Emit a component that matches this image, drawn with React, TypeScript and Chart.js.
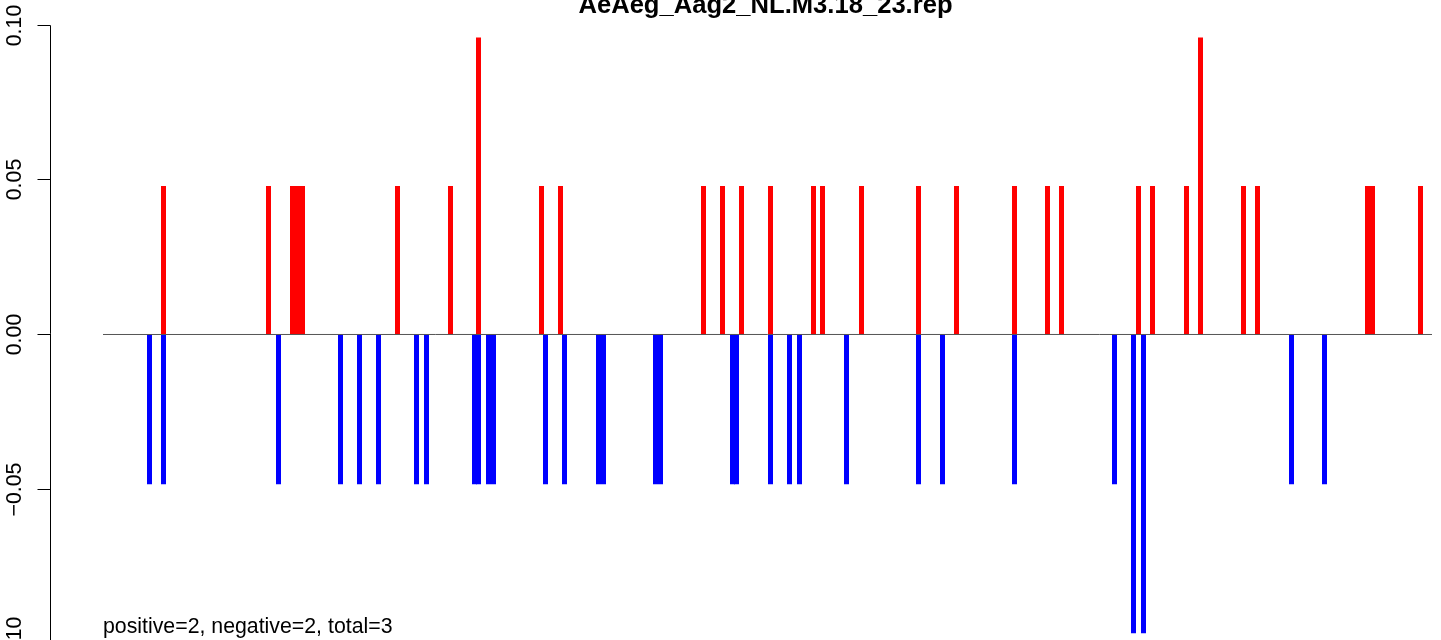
import React, { useEffect, useRef } from "react";
import { Chart, registerables } from "chart.js";

Chart.register(...registerables);

const chartTitle = "AeAeg_Aag2_NL.M3.18_23.rep";
const footnote = "positive=2, negative=2, total=3";

// positions along the sequence (plot units) and values
const posPositions = [
  60.5, 165.5, 189.5, 194.5, 199.5, 294.5, 347.5, 375.5, 438.5, 457.5,
  600.5, 619.5, 638.5, 667.5, 710.5, 719.5, 758.5, 815.5, 853.5, 911.5,
  944.5, 958.5, 1035.5, 1049.5, 1083.5, 1097.5, 1140.5, 1154.5, 1264.5, 1269.5,
  1317.5,
];
const posValues = [
  0.048, 0.048, 0.048, 0.048, 0.048, 0.048, 0.048, 0.096, 0.048, 0.048,
  0.048, 0.048, 0.048, 0.048, 0.048, 0.048, 0.048, 0.048, 0.048, 0.048,
  0.048, 0.048, 0.048, 0.048, 0.048, 0.096, 0.048, 0.048, 0.048, 0.048,
  0.048,
];
const negPositions = [
  46.5, 60.5, 175.5, 237.5, 256.5, 275.5, 313.5, 323.5, 371.5, 375.5,
  385.5, 390.5, 442.5, 461.5, 495.5, 500.5, 552.5, 557.5, 629.5, 633.5,
  667.5, 686.5, 696.5, 743.5, 815.5, 839.5, 911.5, 1011.5, 1030.5, 1040.5,
  1188.5, 1221.5,
];
const negValues = [
  -0.0484, -0.0484, -0.0484, -0.0484, -0.0484, -0.0484, -0.0484, -0.0484, -0.0484, -0.0484,
  -0.0484, -0.0484, -0.0484, -0.0484, -0.0484, -0.0484, -0.0484, -0.0484, -0.0484, -0.0484,
  -0.0484, -0.0484, -0.0484, -0.0484, -0.0484, -0.0484, -0.0484, -0.0484, -0.0965, -0.0965,
  -0.0484, -0.0484,
];
const yTickValues = [0.1, 0.05, 0, -0.05, -0.1];
const yTickLabels = ["0.10", "0.05", "0.00", "\u22120.05", "\u22120.10"];

const xMin = 0;
const xMax = 1329;
const yMin = -0.09871;
const yMax = 0.10808;

export default function App() {
  const ref = useRef<HTMLCanvasElement>(null);

  useEffect(() => {
    const canvas = ref.current;
    if (!canvas) return;

    const rPlot = {
      id: "rBasePlot",
      afterDatasetsDraw(chart: any) {
        const ctx = chart.ctx as CanvasRenderingContext2D;
        const ys = chart.scales.y;
        const area = chart.chartArea;
        ctx.save();
        // zero line
        const y0 = ys.getPixelForValue(0);
        ctx.strokeStyle = "#555555";
        ctx.lineWidth = 1;
        ctx.beginPath();
        ctx.moveTo(area.left, y0);
        ctx.lineTo(area.right, y0);
        ctx.stroke();

        // y axis
        const axisX = 50.5;
        const tickLen = 13;
        ctx.strokeStyle = "#000000";
        const pTop = Math.floor(ys.getPixelForValue(yTickValues[0])) + 0.5;
        const pBot = Math.floor(ys.getPixelForValue(yTickValues[yTickValues.length - 1])) + 0.5;
        ctx.beginPath();
        ctx.moveTo(axisX, pTop);
        ctx.lineTo(axisX, pBot);
        ctx.stroke();
        ctx.font = "21.3px 'Liberation Sans', Arial, Helvetica, sans-serif";
        ctx.fillStyle = "#000000";
        yTickValues.forEach((v, i) => {
          const py = Math.floor(ys.getPixelForValue(v)) + 0.5;
          ctx.beginPath();
          ctx.moveTo(axisX - tickLen, py);
          ctx.lineTo(axisX, py);
          ctx.stroke();
          ctx.save();
          ctx.translate(21, py);
          ctx.rotate(-Math.PI / 2);
          ctx.textAlign = "center";
          ctx.textBaseline = "alphabetic";
          ctx.fillText(yTickLabels[i], 0, 0);
          ctx.restore();
        });

        // footnote
        ctx.textAlign = "left";
        ctx.textBaseline = "alphabetic";
        ctx.fillText(footnote, area.left, 633);

        // title
        ctx.font = "bold 25.6px 'Liberation Sans', Arial, Helvetica, sans-serif";
        ctx.textAlign = "center";
        ctx.fillText(chartTitle, (area.left + area.right) / 2 - 2, 13);
        ctx.restore();
      },
    };

    const chart = new Chart(canvas, {
      type: "bar",
      data: {
        datasets: [
          {
            label: "positive",
            data: posPositions.map((x, i) => ({ x, y: posValues[i] })),
            backgroundColor: "#ff0000",
            borderWidth: 0,
            barThickness: 5,
            maxBarThickness: 5,
            grouped: false,
            inflateAmount: 0,
          } as any,
          {
            label: "negative",
            data: negPositions.map((x, i) => ({ x, y: negValues[i] })),
            backgroundColor: "#0000ff",
            borderWidth: 0,
            barThickness: 5,
            maxBarThickness: 5,
            grouped: false,
            inflateAmount: 0,
          } as any,
        ],
      },
      options: {
        responsive: false,
        animation: false,
        devicePixelRatio: 1,
        layout: { padding: { left: 103, right: 9, top: 0, bottom: 0 } },
        plugins: {
          legend: { display: false },
          tooltip: { enabled: false },
          title: { display: false },
        },
        scales: {
          x: { type: "linear", min: xMin, max: xMax, display: false, offset: false },
          y: { type: "linear", min: yMin, max: yMax, display: false },
        },
      },
      plugins: [rPlot],
    });

    return () => chart.destroy();
  }, []);

  return (
    <div style={{ position: "fixed", left: 0, top: 0, width: 1441, height: 640, background: "#ffffff" }}>
      <canvas ref={ref} width={1441} height={640} style={{ display: "block", width: 1441, height: 640 }} />
    </div>
  );
}
